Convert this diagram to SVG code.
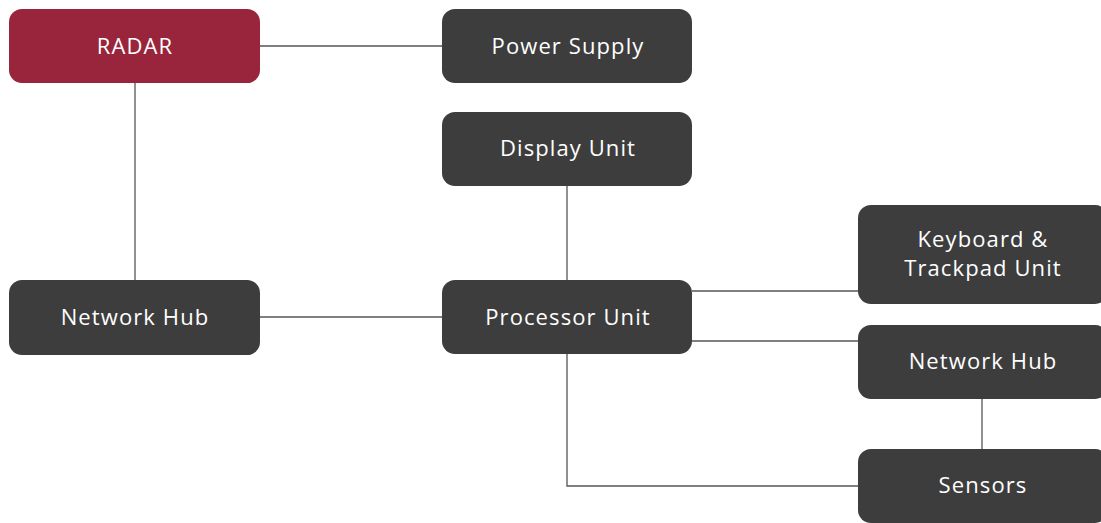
<svg xmlns="http://www.w3.org/2000/svg" width="1101" height="523" viewBox="0 0 1101 523">
<style>
.n{fill:#3d3d3d}
.r{fill:#98253b}
.t{fill:#ffffff;font-family:"Open Sans","Liberation Sans",sans-serif;font-size:22px;letter-spacing:1.1px;text-anchor:middle;dominant-baseline:central}
.c{stroke:#555555;stroke-width:1.3;fill:none}
</style>
<rect width="1101" height="523" fill="#ffffff"/>
<g id="connectors">
<path class="c" d="M260 46H442"/>
<path class="c" d="M135 83V280"/>
<path class="c" d="M260 317H442"/>
<path class="c" d="M567 186V280"/>
<path class="c" d="M692 291H858"/>
<path class="c" d="M692 341H858"/>
<path class="c" d="M567 354V486H858"/>
<path class="c" d="M982 399V449"/>
</g>
<g id="radar"><rect class="r" x="9" y="9" width="251" height="74" rx="13"/><text class="t" x="135" y="45">RADAR</text></g>
<g id="power"><rect class="n" x="442" y="9" width="250" height="74" rx="13"/><text class="t" x="568" y="45">Power Supply</text></g>
<g id="display"><rect class="n" x="442" y="112" width="250" height="74" rx="13"/><text class="t" x="568" y="147">Display Unit</text></g>
<g id="netLeft"><rect class="n" x="9" y="280" width="251" height="75" rx="13"/><text class="t" x="135" y="316">Network Hub</text></g>
<g id="processor"><rect class="n" x="442" y="280" width="250" height="74" rx="13"/><text class="t" x="568" y="316">Processor Unit</text></g>
<g id="keyboard"><rect class="n" x="858" y="205" width="250" height="99" rx="13"/><text class="t" x="983" y="238">Keyboard &amp;</text><text class="t" x="983" y="267">Trackpad Unit</text></g>
<g id="netRight"><rect class="n" x="858" y="325" width="250" height="74" rx="13"/><text class="t" x="983" y="360">Network Hub</text></g>
<g id="sensors"><rect class="n" x="858" y="449" width="250" height="74" rx="13"/><text class="t" x="983" y="484">Sensors</text></g>
</svg>
